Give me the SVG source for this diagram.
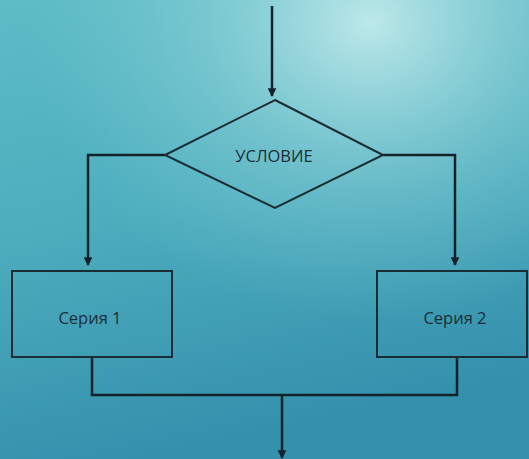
<svg xmlns="http://www.w3.org/2000/svg" width="529" height="459" viewBox="0 0 529 459">
<defs>
<linearGradient id="bg" x1="0" y1="0" x2="0.25" y2="1">
<stop offset="0" stop-color="#5dbcc6"/>
<stop offset="0.5" stop-color="#4cadbd"/>
<stop offset="1" stop-color="#3590ad"/>
</linearGradient>
<radialGradient id="glow" cx="0.7" cy="0.05" r="0.65">
<stop offset="0" stop-color="#c8eeee" stop-opacity="0.9"/>
<stop offset="0.5" stop-color="#a2dce0" stop-opacity="0.4"/>
<stop offset="1" stop-color="#7fd0d8" stop-opacity="0"/>
</radialGradient>
<marker id="arr" viewBox="0 0 10 10" refX="9" refY="5" markerWidth="3.5" markerHeight="3.5" orient="auto">
<path d="M0,0 L10,5 L0,10 z" fill="#14222a"/>
</marker>
<style>
.ln{fill:none;stroke:#14222a;stroke-width:2.5}
.shape{fill:none;stroke:#1a2c34;stroke-width:2}
.lbl{font-family:"Open Sans","Liberation Sans",sans-serif;font-size:16.5px;fill:#1b2e38;text-anchor:middle;dominant-baseline:central}
</style>
</defs>
<rect width="529" height="459" fill="url(#bg)"/>
<rect width="529" height="459" fill="url(#glow)"/>
<g id="connectors">
<path class="ln" d="M272,6 V96" marker-end="url(#arr)"/>
<path class="ln" d="M165,155 H88 V265" marker-end="url(#arr)"/>
<path class="ln" d="M383,155 H455 V265" marker-end="url(#arr)"/>
<path class="ln" d="M92,357 V395 H457 V357"/>
<path class="ln" d="M282,395 V458" marker-end="url(#arr)"/>
</g>
<g id="condition">
<polygon class="shape" points="275,100 383,155 275,208 165,155"/>
<text class="lbl" x="274" y="155">УСЛОВИЕ</text>
</g>
<g id="series1">
<rect class="shape" x="12" y="271" width="160" height="86"/>
<text class="lbl" x="90" y="317">Серия 1</text>
</g>
<g id="series2">
<rect class="shape" x="377" y="271" width="150" height="86"/>
<text class="lbl" x="455" y="317">Серия 2</text>
</g>
</svg>
